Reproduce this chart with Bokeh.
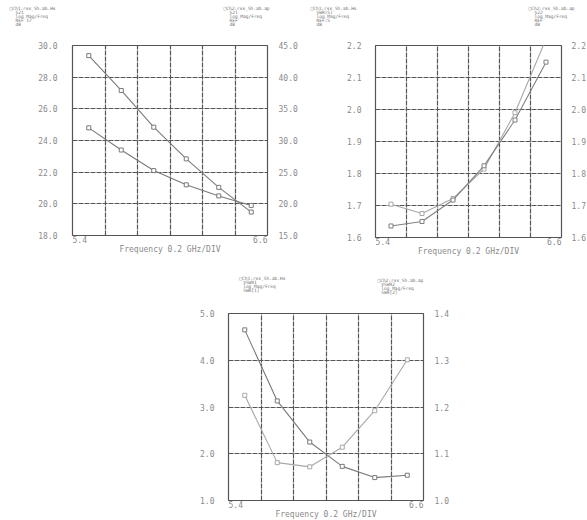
from bokeh.plotting import figure
from bokeh.models import Range1d, LinearAxis, FixedTicker, PrintfTickFormatter, Spacer
from bokeh.layouts import column, row
from bokeh.embed import file_html
from bokeh.resources import INLINE
from bokeh.core.properties import value

# ---------------- data ----------------
FREQ = [5.5, 5.7, 5.9, 6.1, 6.3, 6.5]
X_START, X_END = 5.4, 6.6
X_GRID = [5.4, 5.6, 5.8, 6.0, 6.2, 6.4, 6.6]
X_END_LABELS = ["5.4", "6.6"]
X_TITLE = "Frequency 0.2 GHz/DIV"

# panel 1 (top left)
P1_LEFT_TICKS = [18.0, 20.0, 22.0, 24.0, 26.0, 28.0, 30.0]
P1_RIGHT_TICKS = [15.0, 20.0, 25.0, 30.0, 35.0, 40.0, 45.0]
P1_CH1 = [24.8, 23.4, 22.1, 21.2, 20.5, 19.9]       # left axis
P1_CH2 = [43.4, 37.9, 32.1, 27.1, 22.6, 18.7]       # right axis
P1_HEAD_L = ["\u25a1Ch1:rss_Sh.ab.Hs", "S21", "log_Mag/Freq", "REF 17", "dB"]
P1_HEAD_R = ["\u25a1Ch2:rss_Sh.ab.ap", "S21", "log_Mag/Freq", "REF", "dB"]

# panel 2 (top right)
P2_LEFT_TICKS = [1.6, 1.7, 1.8, 1.9, 2.0, 2.1, 2.2]
P2_RIGHT_TICKS = [1.6, 1.7, 1.8, 1.9, 2.0, 2.1, 2.2]
P2_CH1 = [1.704, 1.675, 1.722, 1.814, 1.990, 2.220]  # left axis
P2_CH2 = [1.636, 1.650, 1.717, 1.824, 1.967, 2.148]  # right axis
P2_HEAD_L = ["\u25a1Ch1:rss_Sh.ab.Hs", "SWR(S)", "log_Mag/Freq", "REF:S", "dB"]
P2_HEAD_R = ["\u25a1Ch2:rss_Sh.ab.ap", "S22", "log_Mag/Freq", "REF", "dB"]

# panel 3 (bottom)
P3_LEFT_TICKS = [1.0, 2.0, 3.0, 4.0, 5.0]
P3_RIGHT_TICKS = [1.0, 1.1, 1.2, 1.3, 1.4]
P3_CH1 = [4.65, 3.13, 2.25, 1.73, 1.49, 1.54]        # left axis
P3_CH2 = [1.225, 1.081, 1.072, 1.114, 1.192, 1.301]  # right axis
P3_HEAD_L = ["\u25a1Ch1:rss_Sh.ab.Hs", "VSWR1", "log_Mag/Freq", "SWR[1]"]
P3_HEAD_R = ["\u25a1Ch2:rss_Sh.ab.ap", "VSWR2", "log_Mag/Freq", "SWR[2]"]

FONT = "DejaVu Sans Mono"
TXT = "#8a8a8a"
GRID = "#555555"
NB = "\u00a0"


def panel(fw, fh, bl, bt, br, bb, lt, rt, y1, y2, col1, col2, sl, sr, ts):
    p = figure(frame_width=fw, frame_height=fh,
               min_border_left=bl, min_border_top=bt, min_border_right=br, min_border_bottom=bb,
               x_range=Range1d(X_START, X_END), y_range=Range1d(lt[0], lt[-1]),
               output_backend="svg", toolbar_location=None,
               background_fill_color="white", border_fill_color="white")
    p.outline_line_color = GRID
    p.outline_line_width = 1.2
    p.xgrid.ticker = FixedTicker(ticks=X_GRID)
    p.ygrid.ticker = FixedTicker(ticks=lt)
    for g in (p.xgrid, p.ygrid):
        g.grid_line_color = GRID
        g.grid_line_width = 1.2
        g.grid_line_dash = "5 1"

    ax = p.xaxis[0]
    ax.ticker = FixedTicker(ticks=[X_START, X_END])
    ax.major_label_overrides = {X_START: NB * 3 + X_END_LABELS[0],
                                X_END: X_END_LABELS[1] + NB * 3}
    ax.major_label_text_font = FONT
    ax.major_label_text_font_size = "8px"
    ax.major_label_text_color = TXT
    ax.major_label_standoff = 0
    ax.major_tick_out = 0
    ax.major_tick_in = 0
    ax.axis_line_color = None
    ax.major_tick_line_color = None
    ax.minor_tick_line_color = None
    ax.axis_label = X_TITLE
    ax.axis_label_text_font = FONT
    ax.axis_label_text_font_size = "8px"
    ax.axis_label_text_font_style = "normal"
    ax.axis_label_text_color = TXT
    ax.axis_label_standoff = ts

    ly = p.yaxis[0]
    ly.ticker = FixedTicker(ticks=lt)
    ly.formatter = PrintfTickFormatter(format="%.1f")
    ly.axis_line_color = None
    ly.major_tick_line_color = None
    ly.minor_tick_line_color = None
    ly.major_label_text_font = FONT
    ly.major_label_text_font_size = "8px"
    ly.major_label_text_color = TXT
    ly.major_label_standoff = sl

    p.extra_y_ranges = {"r": Range1d(rt[0], rt[-1])}
    ry = LinearAxis(y_range_name="r", ticker=FixedTicker(ticks=rt),
                    formatter=PrintfTickFormatter(format="%.1f"))
    ry.axis_line_color = None
    ry.major_tick_line_color = None
    ry.minor_tick_line_color = None
    ry.major_label_text_font = FONT
    ry.major_label_text_font_size = "8px"
    ry.major_label_text_color = TXT
    ry.major_label_standoff = sr
    p.add_layout(ry, "right")

    p.line(FREQ, y1, line_color=col1, line_width=1.1)
    p.scatter(FREQ, y1, marker="square", size=4, line_color=col1, fill_color="white", line_width=1)
    p.line(FREQ, y2, line_color=col2, line_width=1.1, y_range_name="r")
    p.scatter(FREQ, y2, marker="square", size=4, line_color=col2, fill_color="white",
              line_width=1, y_range_name="r")
    return p


def header_strip(w, h, blocks):
    """blocks: list of (x, y, lines) in strip pixels (y measured from top)."""
    s = figure(width=w, height=h, x_range=Range1d(0, w), y_range=Range1d(h, 0),
               min_border=0, output_backend="svg", toolbar_location=None,
               x_axis_location=None, y_axis_location=None)
    s.grid.visible = False
    s.outline_line_color = None
    xs, ys, ts = [], [], []
    for x0, y0, lines in blocks:
        for i, t in enumerate(lines):
            xs.append(x0 + (0 if i == 0 else 6))
            ys.append(y0 + 4.2 * i)
            ts.append(t)
    s.text(xs, ys, text=ts, text_font=value(FONT), text_font_size="4.5px",
           text_color="#707070", text_align="left", text_baseline="top")
    return s


top_strip = header_strip(587, 30, [(9, 5, P1_HEAD_L), (223, 5, P1_HEAD_R),
                                   (310, 5, P2_HEAD_L), (528, 5, P2_HEAD_R)])

# top-left: page frame 72..267 x 45..235
p1 = panel(195, 190, 72, 15, 33, 33, P1_LEFT_TICKS, P1_RIGHT_TICKS, P1_CH1, P1_CH2,
           "#7a7a7a", "#7a7a7a", 9, 5, -3)

# top-right: page frame 375..561 x 45..237 (figure starts at page x 300)
p2 = panel(186, 192, 75, 15, 20, 31, P2_LEFT_TICKS, P2_RIGHT_TICKS, P2_CH1, P2_CH2,
           "#a8a8a8", "#808080", 8, 4, -3)

bottom_strip = header_strip(305, 30, [(17, 7, P3_HEAD_L), (233, 9, P3_HEAD_R)])

# bottom: page frame 228..423 x 313..500 (figure starts at page 150,298)
p3 = panel(195, 187, 78, 15, 32, 8, P3_LEFT_TICKS, P3_RIGHT_TICKS, P3_CH1, P3_CH2,
           "#7a7a7a", "#a8a8a8", 8, 5, -3)

layout = column(top_strip, row(p1, p2),
                row(Spacer(width=150, height=10), column(bottom_strip, p3)))

with open("out.html", "w") as f:
    f.write(file_html(layout, INLINE))
